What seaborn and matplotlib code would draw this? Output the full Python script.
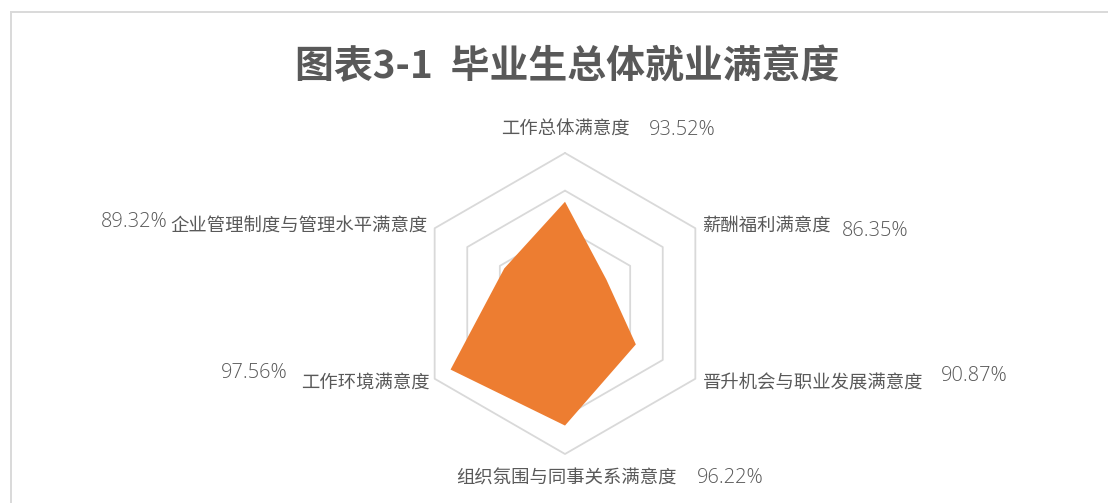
import numpy as np
import matplotlib
matplotlib.use("Agg")
import matplotlib.pyplot as plt
from matplotlib.patches import Rectangle
import seaborn as sns

title = "图表3-1  毕业生总体就业满意度"
categories = ["工作总体满意度", "薪酬福利满意度", "晋升机会与职业发展满意度",
              "组织氛围与同事关系满意度", "工作环境满意度", "企业管理制度与管理水平满意度"]
values = [93.52, 86.35, 90.87, 96.22, 97.56, 89.32]
rings = [85, 90, 95, 100]
r_min, r_max = 80, 100

sns.set_theme(style="white")
cjk = ["Noto Sans CJK SC", "DejaVu Sans"]
num_font = ["Open Sans", "DejaVu Sans"]
plt.rcParams["font.family"] = cjk

W, H = 1108, 503
fig = plt.figure(figsize=(W / 100, H / 100), dpi=100)
fig.patch.set_facecolor("white")

# chart border (cut off at right and bottom)
fig.patches.append(Rectangle((11 / W, -0.05), 1.2, (H - 11.5) / H + 0.05,
                             transform=fig.transFigure, fill=False,
                             edgecolor="#d9d9d9", lw=1.4))

cx, cy, rad = 565, 303.5, 150.5
ax = fig.add_axes([(cx - rad) / W, (H - cy - rad) / H, 2 * rad / W, 2 * rad / H],
                  projection="polar")
ax.set_theta_offset(np.pi / 2)
ax.set_theta_direction(-1)
ax.set_ylim(r_min, r_max)
ax.set_xticks([])
ax.set_yticks([])
ax.grid(False)
ax.spines["polar"].set_visible(False)
ax.patch.set_alpha(0)

n = len(categories)
theta = np.linspace(0, 2 * np.pi, n, endpoint=False)
theta_c = np.append(theta, theta[0])

for r in rings:
    ax.plot(theta_c, [r] * (n + 1), color="#d9d9d9", lw=1.3, zorder=1, clip_on=False)

ax.fill(theta_c, values + values[:1], color="#ED7D31", lw=0, zorder=2)

label_color = "#595959"
# (category offset, category ha, value offset, value ha) in pixels from outer vertex
layout = [
    ((0, 23), "center", (84, 23), "left"),
    ((7, 3), "left", (147, -3), "left"),
    ((8, -5), "left", (246, 3), "left"),
    ((1, -24.5), "center", (132, -24), "left"),
    ((-4.5, -4), "right", (-147.5, 5.5), "right"),
    ((-7.5, 2), "right", (-267.5, 6), "right"),
]
for i, (cat, val) in enumerate(zip(categories, values)):
    (co, cha, vo, vha) = layout[i]
    ax.annotate(cat, xy=(theta[i], r_max), xytext=co, textcoords="offset pixels",
                ha=cha, va="center", fontsize=13.2, color=label_color,
                family=cjk, annotation_clip=False)
    ax.annotate(f"{val:.2f}%", xy=(theta[i], r_max), xytext=vo,
                textcoords="offset pixels", ha=vha, va="center", fontsize=14.4,
                color=label_color, family=num_font, fontweight="light",
                annotation_clip=False)

fig.text(567 / W, 1 - 67 / H, title, ha="center", va="center", fontsize=28,
         fontweight="bold", color=label_color, family=cjk)

fig.savefig("out.png", dpi=100)
